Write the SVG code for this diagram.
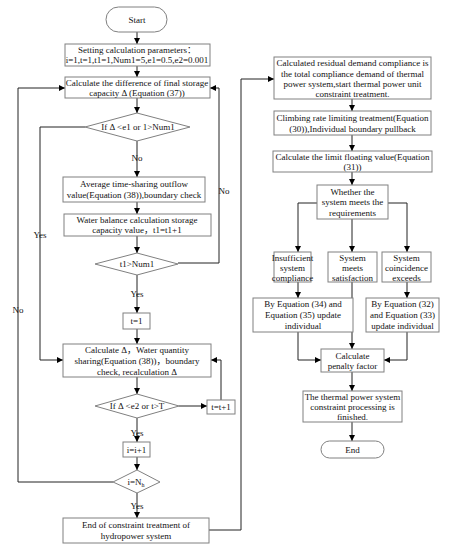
<svg xmlns="http://www.w3.org/2000/svg" width="454" height="550" viewBox="0 0 454 550">
<defs>
<marker id="ah" viewBox="0 0 10 10" refX="10" refY="5" markerWidth="6" markerHeight="6" orient="auto" markerUnits="userSpaceOnUse">
<path d="M0,0 L10,5 L0,10 z" fill="#000"/>
</marker>
<style>
.b{fill:#fff;stroke:#808080;stroke-width:1}
.t{font-family:"Liberation Serif","Noto Sans CJK SC",serif;font-size:9px;fill:#111;text-anchor:middle}
.c{fill:none;stroke:#222;stroke-width:1;marker-end:url(#ah)}
.l{fill:none;stroke:#222;stroke-width:1}
</style>
</defs>
<rect width="454" height="550" fill="#fff"/>

<g id="connectors">
<path class="c" d="M137,32 V44"/>
<path class="c" d="M137,66 V77"/>
<path class="c" d="M137,98 V113"/>
<path class="c" d="M137,141 V177"/>
<path class="c" d="M137,202 V214"/>
<path class="c" d="M137,236 V253"/>
<path class="c" d="M178,263 H219 V88 H210"/>
<path class="c" d="M85,127 H40 V360 H63"/>
<path class="c" d="M137,275 V313"/>
<path class="c" d="M137,329 V344"/>
<path class="c" d="M137,377 V394"/>
<path class="c" d="M179,406 H207"/>
<path class="c" d="M221,400 V360 H211"/>
<path class="c" d="M137,418 V442"/>
<path class="c" d="M137,457 V470"/>
<path class="c" d="M113,482 H18 V88 H65"/>
<path class="c" d="M137,493 V518"/>
<path class="c" d="M209,530 H241 V79 H274"/>
<path class="c" d="M352,99 V111"/>
<path class="c" d="M352,135 V151"/>
<path class="c" d="M352,172 V185"/>
<path class="c" d="M317,203 H298 V252"/>
<path class="c" d="M352,219 V252"/>
<path class="c" d="M388,203 H407 V252"/>
<path class="c" d="M298,282 V298"/>
<path class="c" d="M407,282 V298"/>
<path class="c" d="M298,332 V360 H321"/>
<path class="c" d="M407,332 V360 H384"/>
<path class="c" d="M352,282 V349"/>
<path class="c" d="M352,372 V391"/>
<path class="c" d="M352,422 V441"/>
</g>
<g id="labels">
<text class="t" x="137" y="161">No</text>
<text class="t" x="224" y="194">No</text>
<text class="t" x="40" y="238">Yes</text>
<text class="t" x="137" y="297">Yes</text>
<text class="t" x="18" y="313">No</text>
<text class="t" x="137" y="436">Yes</text>
<text class="t" x="137" y="509">Yes</text>
</g>

<g id="start"><rect class="b" x="106" y="7" width="61" height="25" rx="12.5"/><text class="t" x="137" y="23">Start</text></g>
<g id="setparams"><rect class="b" x="65" y="44" width="145" height="22"/><text class="t" x="137" y="53">Setting calculation parameters：</text><text class="t" x="137" y="63">i=1,t=1,t1=1,Num1=5,e1=0.5,e2=0.001</text></g>
<g id="calcdiff"><rect class="b" x="65" y="77" width="145" height="21"/><text class="t" x="137" y="85.5">Calculate the difference of final storage</text><text class="t" x="137" y="95.5">capacity Δ (Equation (37))</text></g>
<g id="dec1"><polygon class="b" points="137,113 190,127 137,141 85,127"/><text class="t" x="138" y="130">If  Δ &lt;e1 or 1&gt;Num1</text></g>
<g id="avg"><rect class="b" x="63" y="177" width="142" height="25"/><text class="t" x="134" y="187">Average time-sharing outflow</text><text class="t" x="134" y="198">value(Equation (38)),boundary check</text></g>
<g id="waterbal"><rect class="b" x="64" y="214" width="147" height="22"/><text class="t" x="137" y="223">Water balance calculation storage</text><text class="t" x="137" y="233">capacity value，t1=t1+1</text></g>
<g id="dec2"><polygon class="b" points="137,253 178,264 137,275 95,264"/><text class="t" x="137" y="267">t1&gt;Num1</text></g>
<g id="t1"><rect class="b" x="123" y="313" width="27" height="16"/><text class="t" x="136.5" y="324">t=1</text></g>
<g id="calcwater"><rect class="b" x="63" y="344" width="148" height="33"/><text class="t" x="137" y="353">Calculate Δ，Water quantity</text><text class="t" x="137" y="364">sharing(Equation (38))，boundary</text><text class="t" x="137" y="375">check, recalculation Δ</text></g>
<g id="dec3"><polygon class="b" points="137,394 179,406 137,418 95,406"/><text class="t" x="137" y="409">If  Δ &lt;e2 or t&gt;T</text></g>
<g id="tinc"><rect class="b" x="207" y="400" width="28" height="14"/><text class="t" x="221" y="410">t=t+1</text></g>
<g id="iinc"><rect class="b" x="123" y="442" width="27" height="15"/><text class="t" x="136.5" y="452.5">i=i+1</text></g>
<g id="dec4"><polygon class="b" points="137,470 160,482 137,493 113,482"/><text class="t" x="136" y="485">i=N<tspan font-size="6" dy="2">h</tspan></text></g>
<g id="endhydro"><rect class="b" x="63" y="518" width="146" height="25"/><text class="t" x="136" y="528">End of constraint treatment of</text><text class="t" x="136" y="539">hydropower system</text></g>

<g id="residual"><rect class="b" x="274" y="57" width="157" height="42"/><text class="t" x="352.5" y="66">Calculated residual demand compliance is</text><text class="t" x="352.5" y="76.5">the total compliance demand of thermal</text><text class="t" x="352.5" y="87">power system,start thermal power unit</text><text class="t" x="352.5" y="97">constraint treatment.</text></g>
<g id="climb"><rect class="b" x="274" y="111" width="157" height="24"/><text class="t" x="352.5" y="121">Climbing rate limiting treatment(Equation</text><text class="t" x="352.5" y="132">(30)),Individual boundary pullback</text></g>
<g id="limit"><rect class="b" x="273" y="151" width="159" height="21"/><text class="t" x="352.5" y="159.5">Calculate the limit floating value(Equation</text><text class="t" x="352.5" y="169.5">(31))</text></g>
<g id="whether"><rect class="b" x="317" y="185" width="71" height="34"/><text class="t" x="352.5" y="194.5">Whether the</text><text class="t" x="352.5" y="205">system meets the</text><text class="t" x="352.5" y="215.5">requirements</text></g>
<g id="insuff"><rect class="b" x="274" y="252" width="37" height="30"/><text class="t" x="292.5" y="260.5">Insufficient</text><text class="t" x="292.5" y="270.5">system</text><text class="t" x="292.5" y="280.5">compliance</text></g>
<g id="meets"><rect class="b" x="328" y="252" width="49" height="30"/><text class="t" x="352.5" y="260.5">System</text><text class="t" x="352.5" y="270.5">meets</text><text class="t" x="352.5" y="280.5">satisfaction</text></g>
<g id="exceeds"><rect class="b" x="382" y="252" width="49" height="30"/><text class="t" x="406.5" y="260.5">System</text><text class="t" x="406.5" y="270.5">coincidence</text><text class="t" x="406.5" y="280.5">exceeds</text></g>
<g id="upd34"><rect class="b" x="253" y="298" width="100" height="34"/><text class="t" x="303" y="307">By Equation (34) and</text><text class="t" x="303" y="318">Equation (35) update</text><text class="t" x="303" y="329">individual</text></g>
<g id="upd32"><rect class="b" x="366" y="298" width="73" height="34"/><text class="t" x="402.5" y="307">By Equation (32)</text><text class="t" x="402.5" y="318">and Equation (33)</text><text class="t" x="402.5" y="329">update individual</text></g>
<g id="penalty"><rect class="b" x="321" y="349" width="63" height="23"/><text class="t" x="352.5" y="358.5">Calculate</text><text class="t" x="352.5" y="369">penalty factor</text></g>
<g id="finished"><rect class="b" x="303" y="391" width="99" height="31"/><text class="t" x="352.5" y="399.5">The thermal power system</text><text class="t" x="352.5" y="409.5">constraint processing is</text><text class="t" x="352.5" y="419.5">finished.</text></g>
<g id="end"><rect class="b" x="321" y="441" width="63" height="17" rx="8.5"/><text class="t" x="352.5" y="452.5">End</text></g>
</svg>
